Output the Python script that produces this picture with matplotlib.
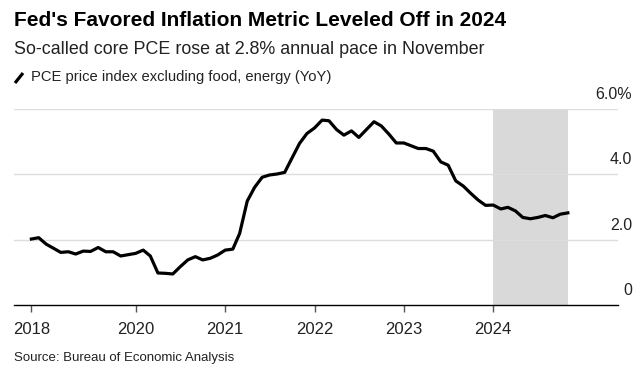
import numpy as np
import pandas as pd
import matplotlib.pyplot as plt
import matplotlib.dates as mdates
from matplotlib.lines import Line2D

plt.rcParams['font.family'] = ['Liberation Sans', 'DejaVu Sans']

# core PCE YoY, monthly Nov 2018 - Nov 2024
months = pd.date_range("2018-11-01", "2024-11-01", freq="MS")
core_pce = [2.02, 2.06, 1.86, 1.73, 1.61, 1.63, 1.56, 1.65, 1.64, 1.76,
            1.63, 1.63, 1.50, 1.54, 1.58, 1.68, 1.50, 0.98, 0.97, 0.95,
            1.17, 1.38, 1.48, 1.38, 1.43, 1.53, 1.68, 1.71, 2.19, 3.18,
            3.60, 3.91, 3.98, 4.01, 4.06, 4.50, 4.95, 5.25, 5.42, 5.66,
            5.64, 5.37, 5.20, 5.33, 5.13, 5.37, 5.61, 5.48, 5.23, 4.96,
            4.96, 4.87, 4.79, 4.79, 4.71, 4.38, 4.28, 3.80, 3.64, 3.42,
            3.21, 3.05, 3.06, 2.94, 2.99, 2.88, 2.68, 2.64, 2.68, 2.74,
            2.67, 2.78, 2.82]

tick_dates = pd.to_datetime(["2018-11-01", "2020-01-01", "2021-01-01",
                             "2022-01-01", "2023-01-01", "2024-01-01"])
tick_labels = ["2018", "2020", "2021", "2022", "2023", "2024"]
y_ticks = [0, 2, 4, 6]
y_labels = ["0", "2.0", "4.0", "6.0%"]
shade = (pd.Timestamp("2024-01-01"), pd.Timestamp("2024-11-01"))

W, H = 642, 378
fig = plt.figure(figsize=(W / 100, H / 100), dpi=100)
ax = fig.add_axes([14 / W, 1 - 305 / H, (618 - 14) / W, (305 - 109) / H])

ax.axvspan(shade[0], shade[1], color="#d9d9d9", lw=0, zorder=0)
for y in y_ticks[1:]:
    ax.axhline(y, color="#dddddd", lw=1, zorder=1)
ax.plot(months, core_pce, color="black", lw=2.3, solid_joinstyle="round", zorder=3)

ax.set_xlim(pd.Timestamp("2018-08-22"), pd.Timestamp("2025-05-25"))
ax.set_ylim(0, 6)
for s in ["top", "right", "left"]:
    ax.spines[s].set_visible(False)
ax.spines["bottom"].set_color("black")
ax.spines["bottom"].set_linewidth(1)
ax.set_xticks(tick_dates)
ax.set_xticklabels(tick_labels, fontsize=12, color="#222222")
ax.tick_params(axis="x", length=5, width=1, color="#555555", pad=7)
ax.set_yticks([])

for y, lab in zip(y_ticks, y_labels):
    ax.annotate(lab, xy=(1, y), xycoords=("axes fraction", "data"),
                xytext=(10, 5), textcoords="offset points",
                ha="right", va="bottom", fontsize=11.5, color="#222222")

fig.text(14 / W, 1 - 20 / H, "Fed's Favored Inflation Metric Leveled Off in 2024",
         fontsize=15, fontweight="bold", va="center", ha="left", color="black")
fig.text(14 / W, 1 - 50 / H, "So-called core PCE rose at 2.8% annual pace in November",
         fontsize=12.9, va="center", ha="left", color="#222222")
fig.add_artist(Line2D([15 / W, 23 / W], [1 - 83 / H, 1 - 73 / H], color="black",
                      lw=2.3, solid_capstyle="butt"))
fig.text(31 / W, 1 - 77 / H, "PCE price index excluding food, energy (YoY)",
         fontsize=10.6, va="center", ha="left", color="#222222")
fig.text(14 / W, 1 - 358 / H, "Source: Bureau of Economic Analysis",
         fontsize=9.5, va="center", ha="left", color="#222222")

fig.savefig("out.png", dpi=100)
